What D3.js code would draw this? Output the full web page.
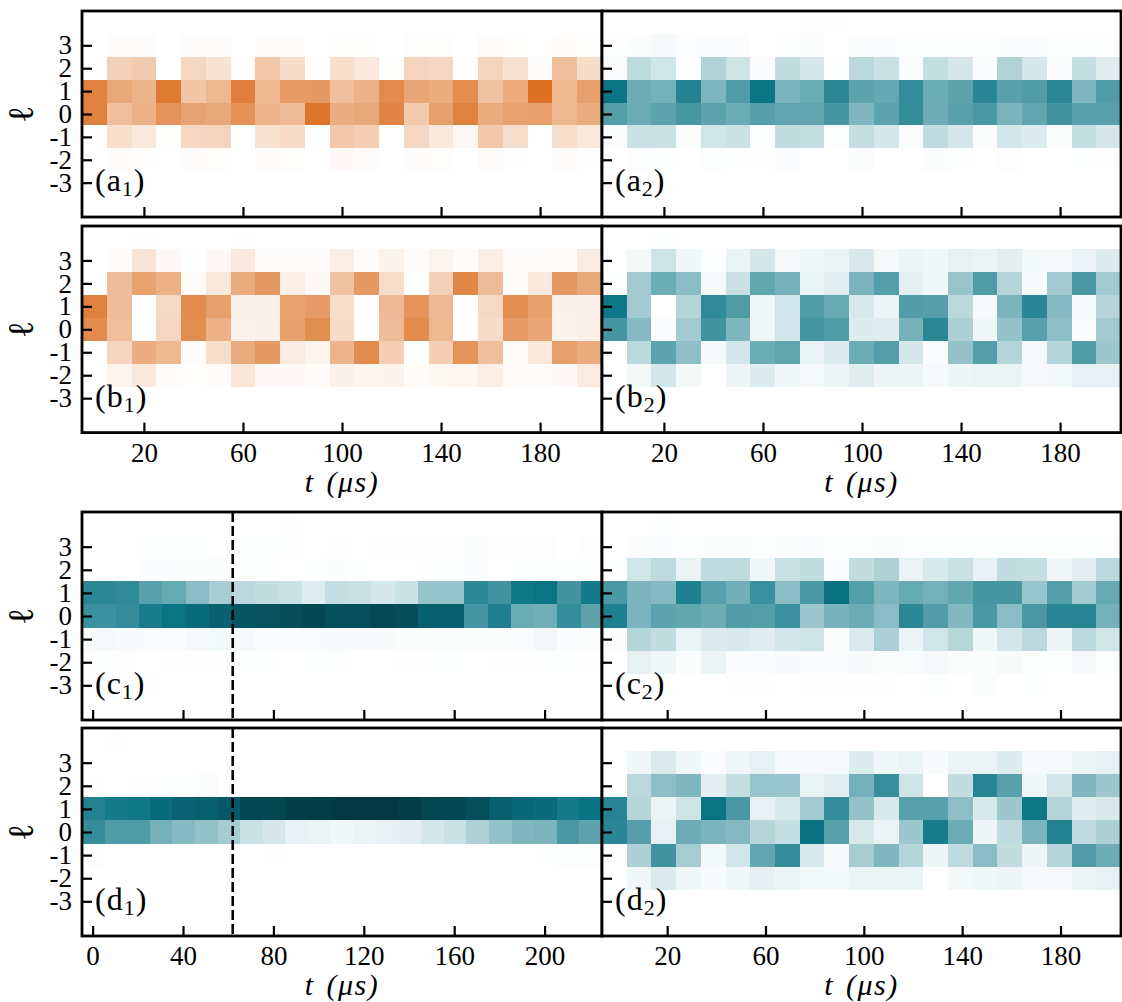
<!DOCTYPE html>
<meta charset="utf-8">
<style>
body { margin: 0; background: #fff; }
text { font-family: "Liberation Serif", serif; fill: #000; }
.axis path { display: none; }
.axis line { stroke: #000; stroke-width: 2.2px; }
.axis text { font-size: 27px; font-family: "Liberation Serif", serif; }
.frame { fill: none; stroke: #000; stroke-width: 2.8px; }
</style>
<svg width="1122" height="1002"></svg>
<script src="https://d3js.org/d3.v7.min.js"></script>
<script>

// rows run from l = 4 (top) down to l = -4, values are populations in percent
var ell = [4, 3, 2, 1, 0, -1, -2, -3, -4];
var yTicks = [3, 2, 1, 0, -1, -2, -3];
var ticksA = [20, 60, 100, 140, 180];
var ticksC = [0, 40, 80, 120, 160, 200];

var a1 = [
  [0,0,0,0,0,0,0,0,0,0,0,0,0,0,0,0,0,0,0,0,0],
  [0,1,1,0,1,1,0,1,1,0,.5,.5,0,.7,.7,0,1,.7,0,1.5,.8],
  [0,16,18,0,14,10,.5,19,12,.5,11,8,.5,15,14,.5,15,10,1,22,12],
  [43,30,26,46,20,25,44,25,34,35,22,27,40,31,29,39,21,29,49,25,33],
  [43,22,27,37,32,30,38,26,23,48,28,30,42,18,33,43,29,32,33,25,29],
  [0,11,8,.5,14,15,0,10,12,.3,19,17,0,14,8,3,19,11,0,11,8],
  [0,1,.5,0,1,.6,0,1,.6,0,2,1,0,1.2,.6,0,1.2,.3,0,1.2,.2],
  [0,0,0,0,0,0,0,0,0,0,0,0,0,0,0,0,0,0,0,0,0],
  [0,0,0,0,0,0,0,0,0,0,0,0,0,0,0,0,0,0,0,0,0]
];
var a2 = [
  [0,0,0,0,0,0,0,0,.3,.3,0,0,0,0,0,0,0,0,0,0,0],
  [.5,.8,1.8,.6,1,1,0,.6,.8,0,1,1,.5,.6,.6,.5,.9,.9,.5,.7,.5],
  [1,13,9.5,.6,16,10,1,12.5,8.5,.7,14,11,.9,12,8.5,1.3,16,8.5,1,12,6.5],
  [49.5,30,28.5,45,26.6,35.5,50,27,30,43,33,31.5,41.6,30,33,43.5,34,36,43,26,35.5],
  [35,30,33,37.5,33,30,34.5,32.5,32.5,38,26,33,41,29.5,34,37,27,32.5,39,34,34],
  [.8,11,11,.8,9.5,11,.6,12.5,12,.6,12,8.5,.8,13,8.5,.8,9,7,.8,12,8.5],
  [0,.6,.5,0,.7,.5,.3,1,0,0,1,0,0,.8,.5,0,.6,0,0,.5,.3],
  [0,0,0,0,0,0,0,0,0,0,0,0,0,0,0,0,0,0,0,0,0],
  [0,0,0,0,0,0,0,0,0,0,0,0,0,0,0,0,0,0,0,0,0]
];
var b1 = [
  [0,0,.2,0,0,0,.2,0,0,0,0,0,0,0,0,0,0,0,0,0,0],
  [0,1.5,9,2,.3,2,8,1,1,1,6,1,4,1,3.5,1.5,6,1,1,1.5,7],
  [0,23,32,27,1.5,8,29,35,5.5,2,21,35,11.5,0,16,41,23,1,8,35,30],
  [43,23,0,13,40,33,5,5,32,34,11,0,24,37,24,0,13,39,33,5,5],
  [40,22,.3,14,39,27,4.5,5,33,39,12,.3,23,40,25,0,12,34,31,4,5.5],
  [0,15,28,25,1,11,29,35,7,3.5,26,40,17,0,17,37,22,1.5,8,33,29],
  [0,3.5,8,1,.4,1.5,8.5,2,2,1.5,5,3.5,4,1.5,2.5,3,6,1,1,2,7],
  [0,0,0,0,0,0,0,0,0,0,0,0,0,0,0,0,.1,0,0,.1,0],
  [0,0,0,0,0,0,0,0,0,0,0,0,0,0,0,0,0,0,0,0,0]
];
var b2 = [
  [0,0,.5,0,0,0,0,0,0,0,0,0,0,0,0,0,0,0,0,0,0],
  [0,2.5,10,3,.5,4,9,2,3,4,8,2,3.5,3,5,4,6,2.5,2,4.5,7],
  [.5,19,30,24,2,11,32,28,4,6,27,35,5.5,3,21,36,15,1.5,19,37,19],
  [49,19,0,15,42,36,3,9.5,36,31,8,4,35.5,34.5,14,2,27,43.5,25,1.5,15],
  [38,25,1,19,39,26,3,9,38,36,7,6.5,28,43,17,3,22,34,23,1,19],
  [0,14,33,23,2,9,30,32,4,7,30,35,8.5,1,22,35,15,2,15,36,20],
  [0,2.5,8.5,2.5,0,3.5,7,3,2,3.5,6.5,3.5,3.5,2,3.5,4,4,2,2.5,5,5],
  [0,0,0,0,0,0,0,0,0,0,0,0,0,0,0,0,0,0,0,0,0],
  [0,0,0,0,0,0,0,0,0,0,0,0,0,0,0,0,0,0,0,0,0]
];
var c1 = [
  [0,0,0,0,0,0,0,0,0,.2,0,0,0,0,0,0,0,0,0,0,0,0,0],
  [0,0,0,.5,.5,.5,0,.5,.5,.5,0,.5,0,.2,.2,.2,.2,.8,.3,.3,.6,0,.6],
  [0,0,0,1,1,.8,.8,.4,.4,0,.5,.8,.5,0,0,.5,.4,1,0,.4,.7,.5,.4],
  [43,43,42,34,31,24,18,14,12.5,11,6.5,12,11,8.5,11,21.5,21.5,43,39,49,50,39,48],
  [39.5,39.5,41.5,47,50,56,65,75,78,81,85,80,79,84,81,66,66,38,46,30,29,41,33],
  [1.5,2,1.5,1.2,1,2,2.5,2,1,1,1.2,1.5,1.5,1.5,.8,.8,.8,.8,.8,1,2.5,1,.8],
  [.3,.5,.2,0,.3,.3,.3,.4,.4,0,.4,.4,0,0,.2,.5,.5,0,.3,.3,.4,.4,.2],
  [.3,.4,.3,.2,0,0,0,0,0,0,0,0,0,0,0,0,0,0,0,0,0,0,0],
  [0,0,0,0,0,0,0,0,0,0,0,0,0,0,0,0,0,0,0,0,0,0,0]
];
var c2 = [
  [0,0,.4,0,0,0,0,0,0,0,0,0,0,0,0,0,0,0,0,0,0],
  [0,.8,1,.4,.8,.8,.5,.8,1,.4,.7,.8,.6,.7,.7,.4,.7,.7,.4,.4,.5],
  [.4,9.5,13,4,13,13,3,11,12.5,1,12.5,16.5,4,8,11,5,12.5,12,3,6,14],
  [37,27,25,46,34,29,40,24,37,52,35,26.5,31,28.5,32,38,38,21,35,19,31],
  [46,27,33,32,29.5,35.5,35,40,20.5,27.5,30,24,43,35.5,25.5,37,24,37,44,44,28.5],
  [1,15,12.5,4,7.5,8,6.5,9,10,.8,7.5,17,4,9.5,14.5,3,9,14,3.5,14,9.5],
  [0,5,3,.8,4,1,1,1.5,1,1,1.5,.8,1.2,2,.8,.8,1.8,.5,.5,1.7,.7],
  [0,0,0,0,0,.2,.2,0,.3,.3,.2,.2,0,.4,0,.8,0,.4,0,0,0],
  [0,0,0,0,0,0,0,0,0,0,0,0,0,0,0,0,0,0,0,0,0]
];
var d1 = [
  [0,.4,0,0,0,0,0,0,0,0,0,0,0,0,0,0,0,0,0,0,0,0,0],
  [0,0,0,0,0,0,0,0,0,0,0,0,0,0,0,0,0,0,0,0,0,0,0],
  [.5,0,.3,.4,.4,.8,.1,.1,.1,.1,.1,.1,.1,.1,.1,.1,.1,0,0,0,0,.1,0],
  [45,48,49,56,64,66,72,86,86,93,94,98,98,98,94,87,86,80,67,60,58,48,51],
  [41,36,36,28.5,25,22,18.5,11,8.5,5,4,3,4,5,6,9,11,16.5,22,26,27,37,33],
  [.6,.1,.1,.1,.1,.1,.1,.1,.2,.1,.1,.1,.1,.1,.1,.1,.1,.1,.1,.1,.5,.6,.7],
  [0,0,0,0,0,0,0,0,0,0,0,0,0,0,0,0,0,0,0,0,0,0,0],
  [0,0,0,0,0,0,0,0,0,0,0,0,0,0,0,0,0,0,0,0,0,0,0],
  [0,0,0,0,0,0,0,0,0,0,0,0,0,0,0,0,0,0,0,0,0,0,0]
];
var d2 = [
  [0,0,0,0,0,0,0,0,0,0,0,0,0,0,0,0,0,0,0,0,0],
  [0,3,7.5,3,1,3,5,2,2,2,7,3,4,1.5,4,4,7,2,2,4,5],
  [0,14,23.5,26,6,12,21,21,4,6,28.5,40.5,10,0,12.5,44,34,3,9,26,20],
  [44,15,4,10,50,37,5,8,19,41,22,8,34,34,23,8,20,49,15.5,6.5,8],
  [43.5,34.5,5,30,27,25,15,12,51,34,8,4,20,47,30,3.5,13,27,45,13,17],
  [.5,17,39,18.5,2.5,9,32.5,41,8,2,18.5,26,15.5,3.5,13,24,12.5,3.5,15,35.5,30],
  [0,3,7.5,3,1.5,3,5.5,3.5,2.5,2.5,4,4,4,0,2.5,3,3.5,2,2,4,5],
  [0,0,0,0,0,0,0,0,0,0,0,0,0,0,0,0,0,0,0,0,0],
  [0,0,0,0,0,0,0,0,0,0,0,0,0,0,0,0,0,0,0,0,0]
];

var switchTime = 62;

var orange = d3.scaleLinear().domain([0, 50]).range(["#ffffff", "#db6e20"]).clamp(true),
    teal = d3.scaleLinear().domain([0, 50, 100]).range(["#ffffff", "#0a7484", "#02353f"]);

var svg = d3.select("svg");

var colLeft = {x0: 82, x1: 602},
    colRight = {x0: 602, x1: 1121};

var rowsY = {
  a: [11, 217],
  b: [226, 432.6],
  c: [512, 720],
  d: [728, 936]
};

// cols = index range shown by the panel, c1 starts and ends part way through a cell
var panels = [
  {data: a1, color: orange, col: colLeft,  row: "a", sub: "1", cols: [0, 21],        t: [-5, 205],      ticks: ticksA},
  {data: a2, color: teal,   col: colRight, row: "a", sub: "2", cols: [0, 21],        t: [-5, 204.6],    ticks: ticksA},
  {data: b1, color: orange, col: colLeft,  row: "b", sub: "1", cols: [0, 21],        t: [-5, 205],      ticks: ticksA, labels: true},
  {data: b2, color: teal,   col: colRight, row: "b", sub: "2", cols: [0, 21],        t: [-5, 204.6],    ticks: ticksA, labels: true},
  {data: c1, color: teal,   col: colLeft,  row: "c", sub: "1", cols: [.544, 22.92],  t: [-4.7, 225.4],  ticks: ticksC, mark: true},
  {data: c2, color: teal,   col: colRight, row: "c", sub: "2", cols: [0, 21],        t: [-6.5, 204.6],  ticks: ticksA},
  {data: d1, color: teal,   col: colLeft,  row: "d", sub: "1", cols: [0, 23],        t: [-4.7, 225.4],  ticks: ticksC, mark: true, labels: true},
  {data: d2, color: teal,   col: colRight, row: "d", sub: "2", cols: [0, 21],        t: [-6.5, 204.6],  ticks: ticksA, labels: true}
];

panels.forEach(function(p, i) {
  var top = rowsY[p.row][0], bottom = rowsY[p.row][1],
      left = p.col.x0, right = p.col.x1;

  var g = svg.append("g");

  var xCell = d3.scaleLinear().domain(p.cols).range([left, right]),
      xTime = d3.scaleLinear().domain(p.t).range([left, right]),
      y = d3.scaleLinear().domain([4.5, -4.5]).range([top, bottom]);

  var clipId = "clip" + i;
  g.append("clipPath").attr("id", clipId).append("rect")
      .attr("x", left).attr("y", top)
      .attr("width", right - left).attr("height", bottom - top);

  /* cells */
  var cells = [];
  p.data.forEach(function(row, r) {
    row.forEach(function(v, c) {
      cells.push({l: ell[r], c: c, v: v});
    });
  });

  g.append("g").attr("clip-path", "url(#" + clipId + ")")
    .selectAll("rect")
    .data(cells)
    .enter().append("rect")
      .attr("x", function(d) { return xCell(d.c); })
      .attr("y", function(d) { return y(d.l + .5); })
      .attr("width", function(d) { return xCell(d.c + 1) - xCell(d.c); })
      .attr("height", function(d) { return y(d.l - .5) - y(d.l + .5); })
      .attr("shape-rendering", "crispEdges")
      .attr("fill", function(d) { return p.color(d.v); });

  /* dashed line where the drive changes */
  if (p.mark) {
    g.append("line")
        .attr("x1", xTime(switchTime)).attr("x2", xTime(switchTime))
        .attr("y1", top).attr("y2", bottom)
        .attr("stroke", "#000")
        .attr("stroke-width", 2.6)
        .attr("stroke-dasharray", "10,4");
  }

  /* axes, ticks point inward */
  var xAxis = d3.axisBottom(xTime).tickValues(p.ticks).tickSize(-10).tickPadding(10)
      .tickFormat(p.labels ? function(d) { return String(d); } : "");
  g.append("g")
      .attr("class", "axis")
      .attr("transform", "translate(0," + bottom + ")")
      .call(xAxis);

  var yAxis = d3.axisLeft(y).tickValues(yTicks).tickSize(-10).tickPadding(10)
      .tickFormat(p.col === colLeft ? function(d) { return String(d); } : "");
  g.append("g")
      .attr("class", "axis")
      .attr("transform", "translate(" + left + ",0)")
      .call(yAxis);

  g.append("rect")
      .attr("class", "frame")
      .attr("x", left).attr("y", top)
      .attr("width", right - left).attr("height", bottom - top);

  /* panel tag */
  var tag = g.append("text")
      .attr("x", left + 13)
      .attr("y", bottom - 26)
      .style("font-size", "32px")
      .style("letter-spacing", "1px");
  tag.append("tspan").text("(" + p.row);
  tag.append("tspan").attr("dy", 5).style("font-size", "22px").text(p.sub);
  tag.append("tspan").attr("dy", -5).text(")");

  if (p.col === colLeft) {
    g.append("text")
        .attr("transform", "translate(33," + (top + bottom) / 2 + ") rotate(-90)")
        .attr("text-anchor", "middle")
        .style("font-size", "36px")
        .text("\u2113");
  }

  if (p.labels) {
    g.append("text")
        .attr("x", (left + right) / 2)
        .attr("y", bottom + 59)
        .attr("text-anchor", "middle")
        .style("font-size", "30px")
        .style("font-style", "italic")
        .style("letter-spacing", "1.5px")
        .style("word-spacing", "3px")
        .text("t (\u03bcs)");
  }
});

</script>
